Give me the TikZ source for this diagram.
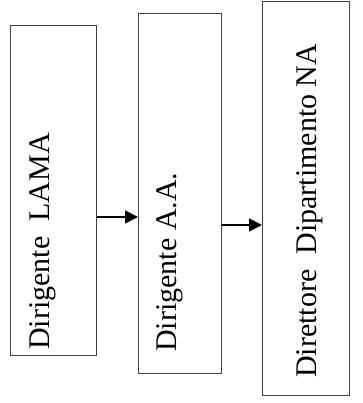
\documentclass[tikz,border=0pt]{standalone}
\usepackage{fontspec}
\setmainfont{Liberation Serif}
\usetikzlibrary{arrows.meta}
\begin{document}
\begin{tikzpicture}[x=1pt,y=1pt,
  box/.style={draw=black!75, line width=0.8pt, inner sep=0pt, anchor=north west},
  lbl/.style={rotate=90, anchor=base west, inner sep=0pt, font=\fontsize{30}{36}\selectfont},
  flow/.style={line width=1.6pt, -{Triangle[length=13pt,width=13pt]}}]
\useasboundingbox (0,0) rectangle (362,403);
\node[box, minimum width=86pt, minimum height=330pt] (b1) at (10,378) {};
\node[box, minimum width=83pt, minimum height=360pt] (b2) at (138,390) {};
\node[box, minimum width=87pt, minimum height=394pt] (b3) at (262,402) {};
\node[lbl] (l1) at (49,53) {Dirigente\ \ LAMA};
\node[lbl] (l2) at (176,51) {Dirigente A.A.};
\node[lbl] (l3) at (316,25) {Direttore\ \ Dipartimento NA};
\coordinate (a1) at (0,186);
\coordinate (a2) at (0,178);
\draw[flow] (b1.east |- a1) -- (b2.west |- a1);
\draw[flow] (b2.east |- a2) -- (b3.west |- a2);
\end{tikzpicture}
\end{document}
